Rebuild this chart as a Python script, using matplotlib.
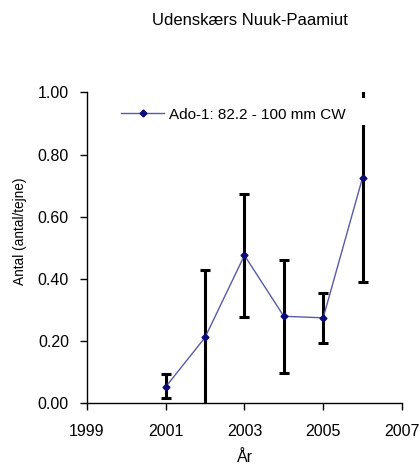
import matplotlib
matplotlib.use("Agg")
import matplotlib.pyplot as plt
from matplotlib.patches import Rectangle
import numpy as np

plt.rcParams['font.family'] = ['Liberation Sans', 'DejaVu Sans']

years = [2001, 2002, 2003, 2004, 2005, 2006]
values = [0.053, 0.212, 0.476, 0.280, 0.275, 0.726]
upper = [0.094, 0.430, 0.674, 0.460, 0.356, 1.062]
lower = [0.016, -0.006, 0.278, 0.098, 0.195, 0.390]
series_label = "Ado-1: 82.2 - 100 mm CW"
title = "Udenskærs Nuuk-Paamiut"
xlabel = "År"
ylabel = "Antal (antal/tejne)"
xticks = [1999, 2001, 2003, 2005, 2007]
yticks = [0.0, 0.2, 0.4, 0.6, 0.8, 1.0]

fig = plt.figure(figsize=(4.2, 4.69), dpi=100)
ax = fig.add_axes([0.207, 0.140, 0.750, 0.663])

v = np.array(values)
yerr = np.vstack([v - np.array(lower), np.array(upper) - v])
ax.errorbar(years, values, yerr=yerr, fmt='none', ecolor='black',
            elinewidth=2.2, capsize=3.6, capthick=2.2, zorder=2)
ax.plot(years, values, color='#5a5aa8', lw=1.0, marker='D', markersize=3.5,
        markerfacecolor='#0a0a78', markeredgecolor='#0a0a78', zorder=3,
        label=series_label)

ax.set_xlim(1999, 2007)
ax.set_ylim(0, 1.0)
ax.set_xticks(xticks)
ax.set_yticks(yticks)
ax.set_yticklabels([f"{t:.2f}" for t in yticks])
for s in ['top', 'right']:
    ax.spines[s].set_visible(False)
for s in ['left', 'bottom']:
    ax.spines[s].set_linewidth(1.0)
ax.tick_params(direction='out', length=5, width=1.0, labelsize=11.5, colors='black')
ax.tick_params(axis='x', pad=10)
ax.tick_params(axis='y', pad=8)

ax.set_xlabel(xlabel, fontsize=11.5, labelpad=8)
ax.set_ylabel(ylabel, fontsize=9.8)
ax.yaxis.set_label_coords(-0.19, 0.554)
fig.text(0.594, 0.957, title, ha='center', va='center', fontsize=12)

# white backdrop behind legend (as in reference, it hides part of the 2006 bar)
ax.add_patch(Rectangle((0.10, 0.895), 0.80, 0.087, transform=ax.transAxes,
                       facecolor='white', edgecolor='none', zorder=4))
leg = ax.legend(loc='upper left', bbox_to_anchor=(0.07, 0.99), frameon=False,
                fontsize=11, handlelength=2.8, handletextpad=0.3,
                borderpad=0.3)
leg.set_zorder(5)

fig.savefig('out.png', dpi=100)
